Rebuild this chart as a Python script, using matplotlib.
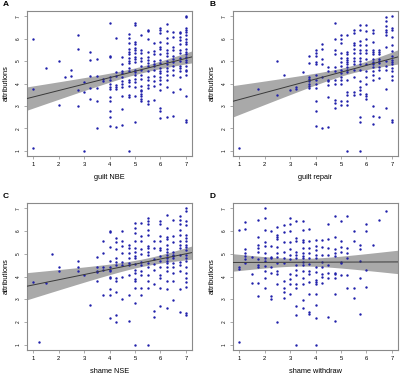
import numpy as np
import matplotlib
matplotlib.use("Agg")
import matplotlib.pyplot as plt

plt.rcParams['font.family'] = ['Liberation Sans', 'DejaVu Sans']

# scores, grouped by x value (x -> list of attributions)
guilt_nbe = {
    1: [6.0, 3.75, 1.1], 1.5: [4.7], 2: [5.0, 3.05], 2.25: [4.3], 2.5: [4.6, 4.35],
    2.75: [6.15, 5.55, 3.7, 3.0], 3: [4.05, 3.6, 1.0], 3.25: [5.4, 5.05, 4.35, 3.8, 3.3],
    3.5: [5.1, 4.35, 3.8, 3.2, 2.0], 3.75: [4.2, 4.1],
    4: [6.7, 5.25, 5.2, 4.3, 4.15, 4.0, 3.85, 3.75, 3.4, 3.2, 2.75, 2.5, 2.1],
    4.25: [6.05, 4.5, 4.35, 3.95, 3.85, 3.75, 2.05],
    4.5: [5.2, 4.85, 4.55, 4.45, 4.3, 4.1, 4.0, 3.85, 3.45, 2.85, 2.15],
    4.75: [6.2, 6.05, 5.8, 5.55, 5.4, 5.3, 5.15, 5.0, 4.9, 4.7, 4.55, 4.15, 4.05, 3.9, 3.5, 3.4, 1.0],
    5: [6.7, 6.62, 5.85, 5.75, 5.6, 5.5, 5.35, 5.2, 5.1, 4.95, 4.6, 4.5, 4.4, 4.2, 4.05, 3.85, 3.45, 2.3],
    5.25: [6.15, 5.5, 5.35, 5.15, 5.0, 4.8, 4.6, 4.4, 4.2, 3.9, 3.7, 3.65, 3.55, 3.45, 3.3, 3.2],
    5.5: [6.4, 6.35, 6.0, 5.4, 5.2, 5.05, 4.9, 4.8, 4.55, 4.3, 4.15, 3.95, 3.8, 3.2, 3.1],
    5.75: [5.8, 5.45, 5.3, 5.0, 4.85, 4.8, 4.6, 4.35, 4.1, 3.9, 3.25],
    6: [6.5, 6.4, 6.25, 5.85, 5.65, 5.55, 5.3, 5.05, 4.9, 4.7, 4.55, 4.45, 4.3, 4.15, 4.0, 3.7, 2.9, 2.75, 2.45],
    6.25: [6.65, 6.35, 6.05, 5.8, 5.5, 5.35, 5.25, 5.0, 4.85, 4.7, 4.55, 4.4, 4.15, 3.85, 2.5],
    6.5: [6.3, 6.1, 5.65, 5.5, 5.25, 5.1, 4.95, 4.8, 4.6, 4.4, 3.6, 2.55],
    6.75: [6.3, 6.25, 6.1, 5.95, 5.75, 5.5, 5.35, 5.15, 5.0, 4.8, 4.7, 4.55, 4.3, 3.75],
    7: [7.0, 6.95, 6.5, 6.4, 6.3, 6.15, 6.0, 5.85, 5.75, 5.55, 5.4, 5.3, 5.2, 5.05, 4.95, 4.8,
        4.6, 4.55, 4.4, 3.45, 2.35, 2.3],
}

guilt_repair = {
    1: [1.1], 1.75: [3.75], 2.5: [5.0, 3.5], 2.75: [4.4], 3: [3.7], 3.25: [3.85, 3.75], 3.5: [4.5],
    3.75: [5.25, 4.9, 4.3, 4.2, 4.1, 4.0, 3.9, 3.8],
    4: [5.5, 5.35, 5.25, 4.95, 4.85, 4.4, 4.15, 4.0, 3.8, 3.2, 2.75, 2.1],
    4.25: [5.75, 5.55, 5.1, 4.85, 4.3, 2.0],
    4.5: [4.75, 4.55, 4.15, 4.1, 3.95, 3.4, 2.05],
    4.75: [6.7, 6.0, 5.5, 5.3, 4.75, 4.55, 4.15, 4.0, 3.25, 3.15, 2.9],
    5: [6.15, 6.0, 5.8, 5.35, 5.15, 4.95, 4.8, 4.6, 4.45, 4.3, 4.15, 4.0, 3.2, 3.05],
    5.25: [6.15, 5.4, 5.3, 5.15, 5.05, 4.95, 4.85, 4.75, 4.6, 4.5, 4.15, 3.6, 3.5, 3.2, 3.05, 1.0],
    5.5: [6.4, 6.25, 5.8, 5.7, 5.55, 5.35, 5.15, 5.0, 4.85, 4.6, 4.3, 3.6, 3.5],
    5.75: [6.6, 6.4, 5.9, 5.7, 5.5, 5.35, 5.15, 5.0, 4.85, 4.6, 4.1, 3.85, 3.7, 3.55, 2.5, 2.3, 1.0],
    6: [6.6, 6.35, 6.0, 5.7, 5.5, 5.35, 5.1, 4.85, 4.55, 4.3, 4.0, 3.55, 3.45, 3.3],
    6.25: [6.4, 6.25, 5.85, 5.5, 5.4, 5.3, 5.1, 4.95, 4.85, 4.75, 4.55, 4.4, 4.15, 3.0, 2.55, 2.2],
    6.5: [5.5, 5.4, 5.3, 5.1, 5.0, 4.9, 4.75, 4.6, 4.25, 2.5],
    6.75: [6.95, 6.8, 6.55, 6.4, 6.3, 6.15, 5.65, 5.0, 4.8, 4.6, 3.75, 2.9],
    7: [7.0, 6.5, 6.4, 6.1, 5.7, 5.45, 5.25, 5.05, 4.95, 4.85, 4.7, 4.55, 4.35, 4.15, 2.35, 2.3],
}

shame_nse = {
    1: [3.75], 1.25: [1.1], 1.5: [3.7], 1.75: [5.0], 2: [4.4, 4.25], 2.75: [4.7, 4.4, 4.25],
    3: [4.05], 3.25: [2.75], 3.5: [4.85, 4.4, 4.25, 4.2, 3.8],
    3.75: [5.55, 5.05, 4.4, 4.3, 3.2],
    4: [6.0, 5.95, 5.3, 4.7, 4.4, 4.3, 4.25, 4.0, 3.95, 3.45, 3.2, 2.15],
    4.25: [5.7, 5.5, 5.2, 4.8, 4.65, 4.5, 3.95, 3.8, 3.3, 2.3, 2.0],
    4.5: [6.0, 5.55, 5.35, 5.05, 4.65, 4.5, 4.0, 3.0],
    4.75: [5.4, 5.25, 5.05, 4.8, 4.6, 4.5, 4.05, 3.2, 2.05],
    5: [6.35, 6.15, 5.9, 5.55, 5.25, 5.1, 4.9, 4.8, 4.55, 4.3, 4.15, 3.9, 3.8, 3.5, 2.85, 1.0],
    5.25: [6.35, 5.8, 5.55, 5.2, 5.0, 4.65, 4.5, 4.25, 4.05, 3.5, 3.2],
    5.5: [6.6, 6.45, 6.3, 6.05, 5.85, 5.35, 5.25, 5.1, 4.95, 4.6, 4.4, 4.05, 3.8, 3.5, 1.0],
    5.75: [5.55, 5.25, 4.75, 4.55, 4.3, 3.65, 2.5, 2.2],
    6: [6.45, 6.3, 5.8, 5.55, 5.25, 5.15, 4.9, 4.7, 4.4, 4.05, 3.95, 3.5, 2.7],
    6.25: [6.7, 6.15, 5.75, 5.65, 5.4, 5.2, 5.1, 4.95, 4.8, 4.7, 4.6, 4.4, 4.25, 3.8, 3.45, 2.6],
    6.5: [6.5, 5.8, 5.5, 5.1, 4.95, 4.9, 4.8, 4.6, 4.4, 4.15, 3.8, 2.95],
    6.75: [6.65, 6.5, 6.3, 6.05, 5.85, 5.55, 5.4, 5.25, 4.95, 4.65, 4.5, 4.25, 3.45, 2.45],
    7: [7.0, 6.9, 6.45, 6.25, 5.85, 5.7, 5.55, 5.4, 5.3, 5.15, 4.95, 4.8, 4.7, 4.4, 4.15,
        3.95, 3.75, 3.55, 2.4, 2.3],
}

shame_withdraw = {
    1: [6.05, 4.4, 4.35, 1.1], 1.25: [6.4, 6.1, 5.2, 5.05, 4.9, 4.75, 4.6], 1.5: [4.85, 4.1, 3.7],
    1.75: [6.5, 5.75, 5.4, 5.25, 5.1, 4.75, 4.5, 4.4, 3.7, 3.15],
    2: [7.0, 6.6, 6.05, 5.5, 5.35, 5.05, 4.8, 4.7, 4.45, 4.25, 3.95, 3.5],
    2.25: [6.0, 5.35, 4.85, 4.8, 4.4, 4.15, 3.15, 3.0],
    2.5: [6.2, 5.85, 5.75, 5.65, 5.3, 5.05, 4.85, 4.6, 4.25, 4.1, 3.65, 2.0],
    2.75: [6.25, 5.95, 5.5, 5.1, 4.8, 4.6, 3.8, 3.5, 3.3, 3.05],
    3: [6.6, 6.3, 6.0, 5.5, 5.2, 4.95, 4.75, 4.1, 3.9, 3.65, 3.25],
    3.25: [6.45, 5.7, 5.55, 5.1, 4.95, 4.8, 4.5, 4.3, 4.05, 3.65, 3.5, 2.7, 2.3, 1.0],
    3.5: [6.45, 6.05, 5.6, 5.5, 5.25, 5.05, 4.9, 4.8, 4.65, 4.5, 4.25, 3.95, 3.65, 2.95, 2.6],
    3.75: [6.1, 5.55, 5.25, 5.05, 4.8, 4.55, 4.25, 4.1, 3.75, 3.25, 2.45, 2.35],
    4: [5.6, 5.35, 5.15, 4.95, 4.8, 4.4, 4.2, 3.85, 3.75, 3.65, 3.25, 2.75, 2.15, 1.0],
    4.25: [5.6, 5.3, 4.95, 4.65, 4.4, 4.1, 4.0, 3.7],
    4.5: [6.3, 5.65, 5.25, 4.95, 4.5, 4.15, 3.95, 2.2],
    4.75: [6.65, 5.75, 5.2, 5.05, 4.9, 4.15, 4.1, 3.95, 3.25, 2.05],
    5: [6.45, 5.55, 5.3, 5.1, 4.65, 4.6, 4.05],
    5.25: [6.65, 5.25, 5.05, 4.8, 4.05, 3.5],
    5.5: [6.0, 5.55, 3.5, 3.05],
    5.75: [5.4, 5.2, 4.7, 3.95, 2.35],
    6: [6.3, 6.0, 4.3, 3.55],
    6.25: [5.4], 6.5: [6.5], 6.75: [6.9],
}

panels = [
    ("A", "guilt NBE", guilt_nbe, [27, 11, 192, 156]),
    ("B", "guilt repair", guilt_repair, [233, 11, 398, 156]),
    ("C", "shame NSE", shame_nse, [27, 203, 192, 350]),
    ("D", "shame withdraw", shame_withdraw, [233, 203, 398, 350]),
]

W, H = 400, 376
fig = plt.figure(figsize=(W / 100, H / 100), dpi=100)
frame_col = '#8a8a8a'

for letter, xlabel, table, (x0, y0, x1, y1) in panels:
    xs = np.array([k for k, v in table.items() for _ in v], dtype=float)
    ys = np.array([y for v in table.values() for y in v], dtype=float)

    ax = fig.add_axes([x0 / W, 1 - y1 / H, (x1 - x0) / W, (y1 - y0) / H])
    ax.set_xlim(0.76, 7.24)
    ax.set_ylim(0.76, 7.24)

    # linear fit with 95% confidence band
    b, a = np.polyfit(xs, ys, 1)
    n = len(xs)
    resid = ys - (a + b * xs)
    s = np.sqrt(np.sum(resid ** 2) / (n - 2))
    sxx = np.sum((xs - xs.mean()) ** 2)
    gx = np.linspace(0.76, 7.24, 100)
    gy = a + b * gx
    se = s * np.sqrt(1 / n + (gx - xs.mean()) ** 2 / sxx)
    ax.fill_between(gx, gy - 1.97 * se, gy + 1.97 * se, color='#8c8c8c', alpha=0.75,
                    lw=0, zorder=1)
    ax.scatter(xs, ys, s=3.0, color='#2020aa', lw=0, zorder=2)
    ax.plot(gx, gy, color='#3a3a3a', lw=0.7, zorder=3)

    ax.set_xticks(range(1, 8))
    ax.set_yticks(range(1, 8))
    ax.tick_params(axis='x', labelsize=4.2, length=2.5, width=0.5, color=frame_col, pad=2)
    ax.tick_params(axis='y', labelsize=3.4, length=2.5, width=0.5, color=frame_col, pad=2,
                   labelrotation=90)
    for lab in ax.get_yticklabels():
        lab.set_va('center')
    for sp in ax.spines.values():
        sp.set_color(frame_col)
        sp.set_linewidth(0.8)
    ax.set_xlabel(xlabel, fontsize=5.3, labelpad=5)
    ax.set_ylabel("attributions", fontsize=5.3, labelpad=4)

    fig.text((x0 - 24) / W, 1 - (y0 - 6) / H, letter, fontsize=6, fontweight='bold',
             ha='left', va='center')

fig.savefig("out.png", dpi=100)
